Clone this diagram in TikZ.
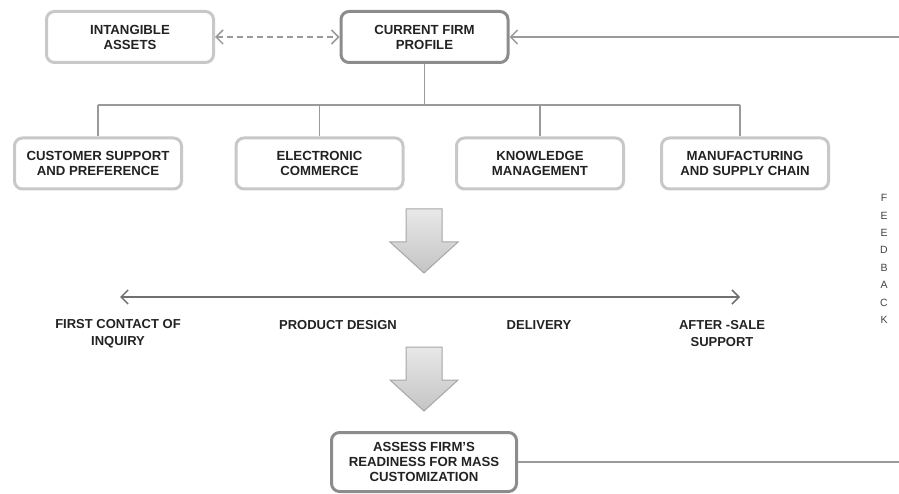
\documentclass[tikz,border=0pt]{standalone}
\usepackage{fontspec}
\setmainfont{Liberation Sans}
\usetikzlibrary{arrows.meta}

\definecolor{boxlight}{HTML}{C8C8C8}
\definecolor{boxdark}{HTML}{8C8C8C}
\definecolor{linegray}{HTML}{9A9A9A}
\definecolor{axisgray}{HTML}{707070}
\definecolor{inkgray}{HTML}{222222}

\tikzset{
  box/.style={draw=boxlight, line width=3pt, rounded corners=8pt, fill=white,
    minimum width=167pt, minimum height=51pt, align=center, inner sep=0pt,
    text=inkgray, font=\fontsize{13.2}{15}\selectfont\bfseries},
  keybox/.style={box, draw=boxdark},
  link/.style={draw=linegray, line width=1.5pt},
  barb/.tip={Straight Barb[length=7pt, width=14pt, line width=1.5pt]},
  stage/.style={align=center, inner sep=0pt, text=inkgray,
    font=\fontsize{13}{16.5}\selectfont\bfseries},
  fbletter/.style={inner sep=0pt, text=inkgray!85, font=\fontsize{10.5}{10.5}\selectfont},
  bigarrow/.style={top color=black!9, bottom color=black!23, draw=black!35, line width=1pt}
}

\begin{document}
\begin{tikzpicture}[x=1pt, y=-1pt]
    \useasboundingbox (0,0) rectangle (899,494);

    % top row
    \node[box]    (intangible) at (130,37)  {INTANGIBLE\\ASSETS};
    \node[keybox] (profile)    at (424.5,37) {CURRENT FIRM\\PROFILE};
    \draw[link, dashed, dash pattern=on 6pt off 4pt, barb-barb] (intangible) -- (profile);

    % functional areas
    \node[box] (customer)  at (98,163.5)  {CUSTOMER SUPPORT\\AND PREFERENCE};
    \node[box] (ecommerce) at (319.5,163.5) {ELECTRONIC\\COMMERCE};
    \node[box] (knowledge) at (540,163.5) {KNOWLEDGE\\MANAGEMENT};
    \node[box] (supply)    at (745,163.5) {MANUFACTURING\\AND SUPPLY CHAIN};

    \coordinate (bus) at (0,105);
    \draw[link] (profile.south) -- (profile.south |- bus);
    \draw[link] (customer.north |- bus) -- ([xshift=-5pt]supply.north |- bus);
    \foreach \n in {customer,ecommerce,knowledge}
        \draw[link] (\n.north |- bus) -- (\n.north);
    \draw[link] ([xshift=-5pt]supply.north |- bus) -- ([xshift=-5pt]supply.north);

    % big down arrows
    \foreach \t in {209,347}
        \shade[bigarrow] (406,\t) -- (442,\t) -- (442,\t+33) -- (458,\t+33)
            -- (424,\t+64) -- (390,\t+33) -- (406,\t+33) -- cycle;

    % customer contact axis
    \coordinate (axisL) at (120,297);
    \coordinate (axisR) at (740,297);
    \draw[draw=axisgray, line width=1.5pt, barb-barb] (axisL) -- (axisR);
    \node[stage] (inquiry)  at (118,333.5) {FIRST CONTACT OF\\INQUIRY};
    \node[stage] (design)   at (338,325.5) {PRODUCT DESIGN};
    \node[stage] (delivery) at (539,325.5) {DELIVERY};
    \node[stage] (aftersale) at (722,333.5) {AFTER -SALE\\SUPPORT};

    % assessment and feedback loop
    \node[keybox, minimum width=185pt, minimum height=59pt] (assess) at (424,462)
        {ASSESS FIRM'S\\READINESS FOR MASS\\CUSTOMIZATION};
    \coordinate (fbtop) at (899,37);
    \coordinate (fbbot) at (899,462);
    \draw[link, -barb] (fbtop) -- (profile);
    \draw[link] (assess) -- (fbbot);
    \foreach \l [count=\i from 0] in {F,E,E,D,B,A,C,K}
        \node[fbletter] (fb\i) at (884,{198+17.4*\i}) {\l};

\end{tikzpicture}
\end{document}
